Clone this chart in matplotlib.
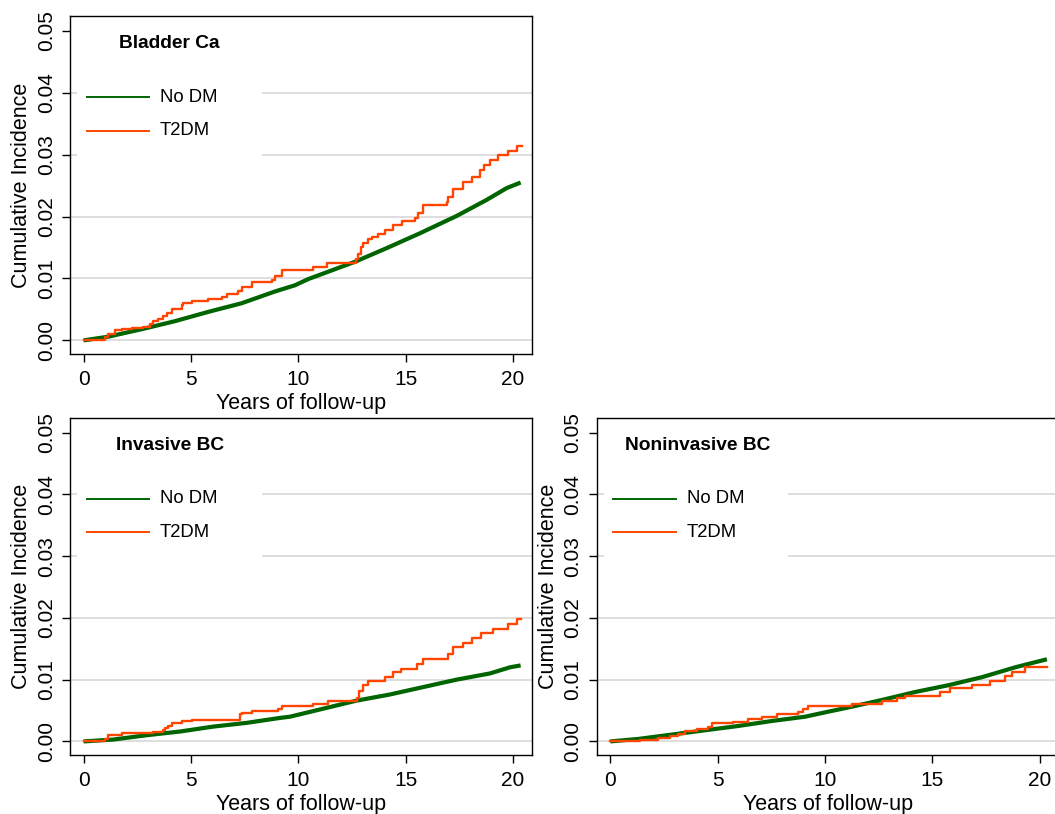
import matplotlib
matplotlib.use("Agg")
import matplotlib.pyplot as plt
from matplotlib.patches import Rectangle

plt.rcParams['font.family'] = ['Liberation Sans', 'DejaVu Sans']

# ---------------- data ----------------
panel_titles = ["Bladder Ca", "Invasive BC", "Noninvasive BC"]
series_labels = ["No DM", "T2DM"]
x_ticks = [0, 5, 10, 15, 20]
y_ticks = [0.00, 0.01, 0.02, 0.03, 0.04, 0.05]
y_tick_labels = ["0.00", "0.01", "0.02", "0.03", "0.04", "0.05"]

# Bladder Ca
bladder_nodm_x = [0, 1.15, 2.7, 4.25, 5.8, 7.36, 8.91, 9.84, 10.46, 12.64, 14.11, 15.66, 17.37, 18.77, 19.7, 20.35]
bladder_nodm_y = [0, 0.0006, 0.0018, 0.0031, 0.0046, 0.0060, 0.0079, 0.0089, 0.0099, 0.0127, 0.0149, 0.0173, 0.0201, 0.0227, 0.0246, 0.0255]
bladder_t2dm_x = [0, 0.45, 1.0, 1.15, 1.46, 1.77, 2.24, 2.78, 3.09, 3.24, 3.48, 3.71, 3.87, 4.1, 4.56, 4.64,
                  5.03, 5.8, 6.43, 6.66, 7.2, 7.36, 7.82, 8.76, 8.91, 9.22, 10.69, 11.32, 12.7, 12.8, 12.92,
                  13.02, 13.26, 13.41, 13.72, 14.03, 14.42, 14.81, 15.43, 15.58, 15.82, 16.9, 16.98, 17.19,
                  17.68, 18.07, 18.46, 18.64, 18.92, 19.31, 19.78, 20.17, 20.4]
bladder_t2dm_y = [0, 0.0001, 0.0006, 0.0011, 0.0016, 0.0018, 0.0020, 0.0022, 0.0026, 0.0031, 0.0035, 0.0039,
                  0.0044, 0.0050, 0.0057, 0.0061, 0.0063, 0.0067, 0.0070, 0.0075, 0.0079, 0.0087, 0.0094,
                  0.0097, 0.0104, 0.0114, 0.0118, 0.0125, 0.0132, 0.0140, 0.0151, 0.0157, 0.0163, 0.0167,
                  0.0172, 0.0178, 0.0186, 0.0193, 0.0197, 0.0205, 0.0219, 0.0224, 0.0232, 0.0244, 0.0256,
                  0.0264, 0.0276, 0.0284, 0.0291, 0.0299, 0.0306, 0.0314, 0.0314]

# Invasive BC
invasive_nodm_x = [0, 1.38, 2.93, 4.49, 6.04, 7.59, 9.14, 9.61, 11.16, 12.71, 14.27, 15.82, 17.37, 18.92, 19.86, 20.35]
invasive_nodm_y = [0, 0.0003, 0.0010, 0.0016, 0.0024, 0.0030, 0.0038, 0.0040, 0.0053, 0.0066, 0.0076, 0.0088, 0.0100, 0.0110, 0.0120, 0.0123]
invasive_t2dm_x = [0, 0.45, 0.99, 1.15, 1.77, 3.24, 3.71, 3.79, 3.94, 4.1, 4.56, 5.03, 7.28, 7.36, 7.82, 9.07,
                   9.22, 10.69, 11.39, 12.71, 12.84, 12.99, 13.26, 14.03, 14.39, 14.78, 15.51, 15.79, 16.98,
                   17.19, 17.65, 18.07, 18.5, 19.05, 19.78, 20.2, 20.35]
invasive_t2dm_y = [0, 0.0001, 0.0004, 0.0011, 0.0013, 0.0016, 0.0018, 0.0021, 0.0025, 0.0030, 0.0033, 0.0035,
                   0.0045, 0.0046, 0.0049, 0.0053, 0.0058, 0.0061, 0.0066, 0.0070, 0.0082, 0.0092, 0.0098,
                   0.0104, 0.0113, 0.0118, 0.0125, 0.0133, 0.0141, 0.0153, 0.0159, 0.0167, 0.0175, 0.0182,
                   0.0190, 0.0198, 0.0198]

# Noninvasive BC
noninv_nodm_x = [0, 1.3, 2.85, 4.41, 5.96, 7.51, 9.07, 10.0, 11.09, 12.64, 14.2, 15.75, 17.31, 18.86, 20.33]
noninv_nodm_y = [0, 0.0004, 0.0011, 0.0018, 0.0025, 0.0033, 0.0040, 0.0047, 0.0055, 0.0067, 0.0080, 0.0091, 0.0104, 0.0120, 0.0133]
noninv_t2dm_x = [0, 1.38, 2.23, 2.77, 3.16, 3.47, 4.02, 4.56, 4.72, 5.73, 6.43, 7.05, 7.75, 8.76, 8.99, 9.22,
                 11.24, 12.64, 13.34, 13.73, 15.36, 15.83, 16.84, 17.69, 18.39, 18.7, 19.32, 20.33]
noninv_t2dm_y = [0, 0.0002, 0.0005, 0.0009, 0.0012, 0.0017, 0.0020, 0.0024, 0.0029, 0.0031, 0.0037, 0.0040,
                 0.0045, 0.0048, 0.0053, 0.0058, 0.0060, 0.0065, 0.0070, 0.0074, 0.0080, 0.0086, 0.0091,
                 0.0098, 0.0106, 0.0113, 0.0120, 0.0120]

GREEN = "#006400"
ORANGE = "#ff4500"
GRID = "#dedede"

W, H = 1055, 814
fig = plt.figure(figsize=(W / 100, H / 100), dpi=100)

def px_axes(left, top, right, bottom):
    return [left / W, 1 - bottom / H, (right - left) / W, (bottom - top) / H]

panels = [
    (px_axes(70.3, 16.0, 532.0, 354.0), panel_titles[0], 0.106,
     bladder_nodm_x, bladder_nodm_y, bladder_t2dm_x, bladder_t2dm_y),
    (px_axes(70.3, 417.7, 532.0, 755.0), panel_titles[1], 0.099,
     invasive_nodm_x, invasive_nodm_y, invasive_t2dm_x, invasive_t2dm_y),
    (px_axes(597.0, 417.7, 1058.7, 755.0), panel_titles[2], 0.06,
     noninv_nodm_x, noninv_nodm_y, noninv_t2dm_x, noninv_t2dm_y),
]

for rect, title, tx, nx, ny, tx2, ty2 in panels:
    ax = fig.add_axes(rect)
    ax.set_xlim(-0.62, 20.88)
    ax.set_ylim(-0.0022, 0.0524)
    for yv in y_ticks[:-1]:
        ax.axhline(yv, color=GRID, lw=1.4, zorder=0)
    # legend background (hides gridlines)
    ax.add_patch(Rectangle((0.0145, 0.55), 0.40, 0.30, transform=ax.transAxes,
                           facecolor="white", edgecolor="none", zorder=1))
    ax.plot(nx, ny, color=GREEN, lw=3.0, zorder=3, solid_capstyle='butt')
    ax.step(tx2, ty2, where='post', color=ORANGE, lw=1.7, zorder=4)

    # legend entries
    ax.plot([0.0355, 0.171], [0.759, 0.759], transform=ax.transAxes, color=GREEN, lw=1.4, zorder=5)
    ax.plot([0.0355, 0.171], [0.661, 0.661], transform=ax.transAxes, color=ORANGE, lw=1.4, zorder=5)
    ax.text(0.194, 0.759, series_labels[0], transform=ax.transAxes, fontsize=13.3,
            va='center', ha='left', zorder=5)
    ax.text(0.194, 0.661, series_labels[1], transform=ax.transAxes, fontsize=13.3,
            va='center', ha='left', zorder=5)

    ax.text(tx, 0.918, title, transform=ax.transAxes, fontsize=13.8, fontweight='bold',
            va='center', ha='left')

    ax.set_xticks(x_ticks)
    ax.set_xticklabels([str(v) for v in x_ticks], fontsize=15)
    ax.set_yticks(y_ticks)
    ax.set_yticklabels(y_tick_labels, fontsize=15, rotation=90, va='center')
    ax.tick_params(axis='x', length=6, width=1.0, pad=5.5, direction='out')
    ax.tick_params(axis='y', length=5.5, width=1.0, pad=5, direction='out')
    for sp in ax.spines.values():
        sp.set_linewidth(1.0)
        sp.set_color('black')
    ax.set_xlabel("Years of follow-up", fontsize=15.5)
    ax.set_ylabel("Cumulative Incidence", fontsize=15.5)
    ax.yaxis.set_label_coords(-0.083, 0.5)
    ax.xaxis.set_label_coords(0.5, -0.115)

fig.savefig("out.png", dpi=100)
